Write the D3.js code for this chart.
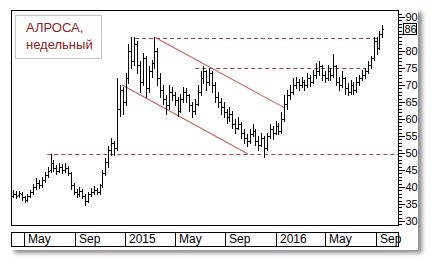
<!DOCTYPE html>
<html>
<head>
<meta charset="utf-8">
<script src="https://cdn.jsdelivr.net/npm/d3@7"></script>
<style>
  body { margin: 0; background: #fff; }
  svg { display: block; font-family: "Liberation Sans", Arial, sans-serif; }
</style>
</head>
<body>
<div class="chart"></div>
<script>
// Weekly bars, first bar on Friday 2014-04-04
var firstWeek = "2014-04-04";
var lastWeek = "2016-09-16";

var opens = [37.5,38,37.6,38,37,36.3,37.5,38.6,40,41.2,40.6,42,43.5,45,47,45.5,44.8,46,45,45.6,
  44,40.5,38.6,37.8,38.8,37.5,35.8,37.8,38.6,39.2,38.4,40.5,44,47.5,51,53,51.5,63,68.5,65,
  72,80,77,82,76,71,78,69,74,76.5,80,72,68.5,66,64,68,67,65.5,62.5,66,
  68,67,64,62.5,64.5,68,72,74,71,73.5,70,66.5,65,63.5,62,60.5,61.5,58.5,57.5,58.5,
  56,54.5,53.5,55.5,56.5,53.5,52.5,54.5,51.5,55,57,56,58,56.5,60,64.5,67,68,70,71,
  70,71,70,72,71,73,74,75.5,73,72,74,73,75.5,71,70,72,69,68,70,68.5,
  71,72,73,74,76,78,83,81,85];
var highs = [39,38.8,38.8,38.5,37.5,38,39.2,41,42.5,42,43,44.5,46,49.7,48,46.5,47,46.8,47,46.3,
  44.5,41.2,39.5,40,39.3,38,38.5,39.8,40.2,39.7,41,45,48.5,52,54.5,53.5,72,70,69.5,73.5,
  82,84,84,83,77,79.5,78.5,75.5,77.5,84,81,73.5,70,67,70,69.5,68,66.5,67.5,69.5,
  69,67.5,65,66,70,74,75.5,74.5,75,74,70.8,68,66.3,65,63,63.5,62.5,60,60.5,59,
  57,55.5,57,58.5,57,55,56,55,56,58.5,58,59.5,58.8,62,67,68.5,70,72,72.5,71.8,
  72.5,71.5,73.5,72.8,74.5,76.5,77,76,74,76,75,79,76,72.5,74,72.5,70.5,71.5,71,72.5,
  73,74.5,75,77,78.5,84,84,86,87.5];
var lows = [37,36.8,37,36.2,35.6,35.8,37,38,39.5,39.8,40,41.5,43,44.5,44.8,43.8,44.3,44.2,44.5,43.5,
  39.5,37.8,37,37.4,36.8,34.7,35.5,37.3,38,37.8,38,40,43.5,46,49.5,49.5,51,61,61.5,64,
  70.5,75,76,73.5,68,70,66.5,68,72.5,75,70,66.5,64.5,61.5,63,65.5,64,61,62,65,
  65,62.5,60.5,61.5,64,67,70.5,68.5,70,68,65,63.5,61.5,60.5,58.8,59.5,57.5,56,57,54.5,
  53,52,53,55,52.5,51,52,48.8,51,54.5,54,55.5,55.5,56,59.5,63,66,67.5,69,68.5,
  69.5,68.5,69.5,69.8,70.5,72,73,71.5,71,71.5,71.5,72.5,70,68.5,69.5,67.5,67,67.5,67.5,68,
  70,71.5,72,73.5,75,77.5,79,80.5,84];
var closes = [38,37.5,38.2,37,36.2,37.5,38.5,40,41.2,40.5,42,43.5,44.8,47,45.5,44.8,46,45,45.6,44,
  40.5,38.6,37.8,38.8,37.5,35.8,37.8,38.6,39.2,38.4,40.5,44,47.5,51,53,51.5,63,68.5,65,72,
  80,77,82,76,71,78,69,74,76.5,80,72,68.5,66,64,68,67,65.5,62.5,66,68,
  67,64,62.5,64.5,68,72,74,71,73.5,70,66.5,65,63.5,62,60.5,61.5,58.5,57.5,58.5,56,
  54.5,53.5,55.5,56.5,53.5,52.5,54.5,51.5,55,57,56,58,56.5,60,64.5,67,68,70,71,70,
  71,70,72,71,73,74,75.5,73,72,74,73,75.5,71,70,72,69,68,70,68.5,71,
  72,73,74,76,78,83,81,85,86.4];

// horizontal support / resistance levels (dashed)
var levelValues = [83.8, 75, 49.7];
var levelFrom = ["2015-01-25", "2015-06-20", "2014-06-26"];
var levelTo = ["2016-09-06", "2016-08-05", "2016-10-24"];

// falling channel (solid lines): start/end dates and values
var channelFrom = ["2015-03-15", "2014-12-25"];
var channelTo = ["2016-01-24", "2015-10-26"];
var channelStart = [84, 70];
var channelEnd = [63.2, 49.7];

// axis ticks
var yTicks = [30, 35, 40, 45, 50, 55, 60, 65, 70, 75, 80, 85, 90];
var xTickDates = ["2014-05-01", "2014-09-01", "2015-01-01", "2015-05-01", "2015-09-01", "2016-01-01", "2016-05-01", "2016-09-01"];
var xTickLabels = ["May", "Sep", "2015", "May", "Sep", "2016", "May", "Sep"];

var titleLines = ["АЛРОСА,", "недельный"];

var svgWidth = 431;
var svgHeight = 262;

// plot box inside the panel
var plot = { left: 11, top: 10, right: 398, bottom: 225 };

var parse = d3.timeParse("%Y-%m-%d");

var svg = d3.select(".chart")
  .append("svg")
  .attr("width", svgWidth)
  .attr("height", svgHeight);

// panel shadow
var defs = svg.append("defs");
defs.append("filter")
  .attr("id", "blur")
  .attr("x", "-10%").attr("y", "-10%").attr("width", "120%").attr("height", "120%")
  .append("feGaussianBlur")
  .attr("stdDeviation", 2);

svg.append("rect")
  .attr("x", 14).attr("y", 12)
  .attr("width", 408).attr("height", 241)
  .attr("fill", "#8c8c8c")
  .attr("filter", "url(#blur)");

svg.append("rect")
  .attr("x", 6).attr("y", 5)
  .attr("width", 412).attr("height", 245)
  .attr("fill", "#fff");

var x = d3.scaleTime()
  .domain([parse("2014-03-30"), parse("2016-10-24")])
  .range([plot.left, plot.right]);

var y = d3.scaleLinear()
  .domain([30, 90])
  .range([221, 17]);

var weeks = d3.timeFriday.range(parse(firstWeek), d3.timeDay.offset(parse(lastWeek), 1));

var bars = weeks.map(function (d, i) {
  return { date: d, o: opens[i], h: highs[i], l: lows[i], c: closes[i] };
});

// title box
svg.append("rect")
  .attr("x", 15.5).attr("y", 15.5)
  .attr("width", 86).attr("height", 43)
  .attr("fill", "#fff")
  .attr("stroke", "#c4c4c4");

svg.selectAll(".title")
  .data(titleLines)
  .enter()
  .append("text")
  .attr("class", "title")
  .attr("x", 26)
  .attr("y", (d, i) => 32 + i * 17)
  .attr("font-size", 13)
  .attr("fill", "#8b2525")
  .text(d => d);

// dashed levels
svg.selectAll(".level")
  .data(levelValues)
  .enter()
  .append("line")
  .attr("x1", (d, i) => x(parse(levelFrom[i])))
  .attr("x2", (d, i) => Math.min(x(parse(levelTo[i])), plot.right))
  .attr("y1", d => Math.round(y(d)) + 0.5)
  .attr("y2", d => Math.round(y(d)) + 0.5)
  .attr("stroke", "#a5443f")
  .attr("stroke-width", 1)
  .attr("stroke-dasharray", "4,3");

// channel lines
svg.selectAll(".channel")
  .data(channelStart)
  .enter()
  .append("line")
  .attr("x1", (d, i) => x(parse(channelFrom[i])))
  .attr("y1", d => y(d))
  .attr("x2", (d, i) => x(parse(channelTo[i])))
  .attr("y2", (d, i) => y(channelEnd[i]))
  .attr("stroke", "#c8605c")
  .attr("stroke-width", 1.1);

// OHLC bars
var barGroup = svg.append("g")
  .attr("shape-rendering", "crispEdges")
  .attr("fill", "#000");

bars.forEach(function (d) {
  var bx = Math.round(x(d.date));
  var top = Math.round(y(d.h));
  var bot = Math.round(y(d.l));
  barGroup.append("rect")
    .attr("x", bx).attr("y", top)
    .attr("width", 1).attr("height", Math.max(1, bot - top + 1));
  barGroup.append("rect")
    .attr("x", bx - 1).attr("y", Math.round(y(d.o)))
    .attr("width", 1).attr("height", 1);
  barGroup.append("rect")
    .attr("x", bx + 1).attr("y", Math.round(y(d.c)))
    .attr("width", 1).attr("height", 1);
});

// plot frame
svg.append("rect")
  .attr("x", plot.left + 0.5).attr("y", plot.top + 0.5)
  .attr("width", plot.right - plot.left).attr("height", plot.bottom - plot.top)
  .attr("fill", "none")
  .attr("stroke", "#000");

// last price, its marker hides the tick label under it
var lastClose = closes[closes.length - 1];
var markerY = Math.round(y(lastClose));

// right axis: minor ticks every unit, major every 5
var minorAxis = d3.axisRight(y)
  .tickValues(d3.range(29, 92))
  .tickSize(3)
  .tickFormat("");

var majorAxis = d3.axisRight(y)
  .tickValues(yTicks)
  .tickSize(6)
  .tickPadding(1);

svg.append("g")
  .attr("transform", `translate(${plot.right + 0.5}, 0)`)
  .attr("shape-rendering", "crispEdges")
  .call(minorAxis)
  .call(g => g.select(".domain").remove());

svg.append("g")
  .attr("transform", `translate(${plot.right + 0.5}, 0)`)
  .attr("shape-rendering", "crispEdges")
  .call(majorAxis)
  .call(g => g.select(".domain").remove())
  .call(g => g.selectAll("text")
    .attr("font-size", 11)
    .attr("font-family", "'Liberation Sans', Arial, sans-serif")
    .attr("fill", "#000")
    .filter(d => Math.abs(y(d) - markerY) < 9)
    .remove());

var marker = svg.append("g")
  .attr("transform", `translate(403, ${markerY})`);
marker.append("rect")
  .attr("x", 0.5).attr("y", -5.5)
  .attr("width", 13).attr("height", 11)
  .attr("fill", "#fff")
  .attr("stroke", "#000");
marker.append("text")
  .attr("x", 1.5).attr("y", 4)
  .attr("font-size", 11)
  .text(Math.round(lastClose));

// time axis row
var rowTop = 232, rowBottom = 246;
var row = svg.append("g").attr("shape-rendering", "crispEdges");

row.append("rect")
  .attr("x", plot.left + 0.5).attr("y", rowTop + 0.5)
  .attr("width", plot.right - plot.left).attr("height", rowBottom - rowTop)
  .attr("fill", "none")
  .attr("stroke", "#000");

row.selectAll(".xdiv")
  .data(xTickDates)
  .enter()
  .append("line")
  .attr("x1", d => Math.round(x(parse(d))) + 0.5)
  .attr("x2", d => Math.round(x(parse(d))) + 0.5)
  .attr("y1", rowTop)
  .attr("y2", rowBottom)
  .attr("stroke", "#000");

row.selectAll(".xlab")
  .data(xTickDates)
  .enter()
  .append("text")
  .attr("x", d => Math.round(x(parse(d))) + 4)
  .attr("y", rowBottom - 3)
  .attr("font-size", 12)
  .attr("fill", "#000")
  .text((d, i) => xTickLabels[i]);
</script>
</body>
</html>
